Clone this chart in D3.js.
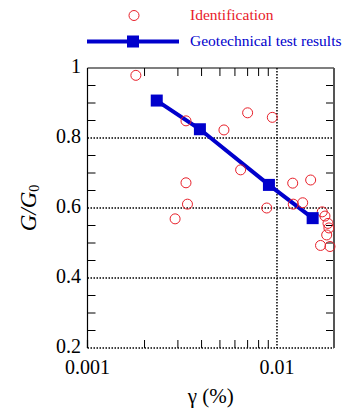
<!DOCTYPE html>
<html><head><meta charset="utf-8">
<script src="https://cdn.jsdelivr.net/npm/d3@7"></script>
<style>body{margin:0;background:#fff}svg{display:block}text{font-family:Times,"Times New Roman","Liberation Serif","DejaVu Serif",serif}</style>
</head><body>
<script>
// Data
const identStrain = [0.00180,0.00331,0.00331,0.00337,0.00290,0.00525,0.00700,0.00945,0.00643,0.01211,0.01506,0.00883,0.01219,0.01367,0.01734,0.01792,0.01859,0.0188,0.0183,0.01698,0.01905];
const identRatio  = [0.979,0.849,0.672,0.611,0.569,0.823,0.872,0.859,0.709,0.671,0.680,0.600,0.611,0.615,0.589,0.577,0.556,0.543,0.523,0.493,0.490];
const testStrain = [0.00232,0.00392,0.00907,0.01543];
const testRatio  = [0.907,0.825,0.666,0.571];
const xTickLabels = ["0.001","0.01"];
const xTickValues = [0.001,0.01];
const yTickLabels = ["0.2","0.4","0.6","0.8","1"];
const yTickValues = [0.2,0.4,0.6,0.8,1];
const legendLabels = ["Identification","Geotechnical test results"];

const W=347,H=417;
const red="#e8202a", blue="#0000cc";
const svg=d3.select("body").append("svg").attr("width",W).attr("height",H);
const L=87.5,R=334,T=68,B=348;
const x=d3.scaleLog().domain([0.001,0.02]).range([L,R]);
const y=d3.scaleLinear().domain([0.2,1]).range([B,T]);

// gridlines
const g=svg.append("g");
g.selectAll("line.gy").data([0.4,0.6,0.8]).join("line")
 .attr("x1",L).attr("x2",R).attr("y1",d=>y(d)).attr("y2",d=>y(d))
 .attr("stroke","#000").attr("stroke-width",1.5).attr("stroke-dasharray","1.5,1.5");
g.append("line").attr("x1",x(0.01)).attr("x2",x(0.01)).attr("y1",T).attr("y2",B)
 .attr("stroke","#000").attr("stroke-width",1.5).attr("stroke-dasharray","1.5,1.5");
g.append("line").attr("x1",L).attr("x2",R).attr("y1",B).attr("y2",B)
 .attr("stroke","#000").attr("stroke-width",1.5).attr("stroke-dasharray","1.5,1.5");

// minor ticks
const xMinor=[0.002,0.003,0.004,0.005,0.006,0.007,0.008,0.009];
const yMinor=d3.range(0.25,1.0,0.05).filter(v=>Math.abs(v*5-Math.round(v*5))>1e-6);
const tl=8;
const tk=svg.append("g").attr("stroke","#000").attr("stroke-width",1);
tk.selectAll("line.xb").data(xMinor).join("line").attr("x1",d=>x(d)).attr("x2",d=>x(d)).attr("y1",B).attr("y2",B-tl);
tk.selectAll("line.xt").data(xMinor).join("line").attr("x1",d=>x(d)).attr("x2",d=>x(d)).attr("y1",T).attr("y2",T+tl);
tk.selectAll("line.yl").data(yMinor).join("line").attr("x1",L).attr("x2",L+tl).attr("y1",d=>y(d)).attr("y2",d=>y(d));
tk.selectAll("line.yr").data(yMinor).join("line").attr("x1",R).attr("x2",R-tl).attr("y1",d=>y(d)).attr("y2",d=>y(d));

// frame
svg.append("line").attr("x1",L).attr("x2",R).attr("y1",T).attr("y2",T).attr("stroke","#000").attr("stroke-width",1.2);
svg.append("line").attr("x1",L).attr("x2",L).attr("y1",T).attr("y2",B).attr("stroke","#000").attr("stroke-width",1.2);
svg.append("line").attr("x1",R).attr("x2",R).attr("y1",T).attr("y2",B).attr("stroke","#555").attr("stroke-width",2);
svg.append("line").attr("x1",L).attr("x2",L).attr("y1",B-8).attr("y2",B).attr("stroke","#000").attr("stroke-width",1.2);

// tick labels
svg.selectAll("text.xl").data(xTickValues).join("text")
 .attr("x",d=>x(d)).attr("y",374).attr("text-anchor","middle")
 .attr("font-size",20).text((d,i)=>xTickLabels[i]);
svg.selectAll("text.yl").data(yTickValues).join("text")
 .attr("x",81).attr("y",d=>y(d)+5).attr("text-anchor","end")
 .attr("font-size",20).text((d,i)=>yTickLabels[i]);

// axis titles
svg.append("text").attr("x",(L+R)/2).attr("y",403).attr("text-anchor","middle")
 .attr("font-size",21).text("γ (%)");
const yt=svg.append("text").attr("transform",`translate(36,${(T+B)/2}) rotate(-90)`)
 .attr("text-anchor","middle").attr("font-size",23);
yt.append("tspan").attr("font-style","italic").text("G/G");
yt.append("tspan").attr("font-size",14).attr("dy",3).text("0");

// test line
const line=d3.line().x((d,i)=>x(testStrain[i])).y((d,i)=>y(testRatio[i]));
svg.append("path").datum(testStrain).attr("d",line).attr("fill","none").attr("stroke",blue).attr("stroke-width",4);

// ident circles
svg.selectAll("circle.id").data(identStrain).join("circle")
 .attr("cx",d=>x(d)).attr("cy",(d,i)=>y(identRatio[i])).attr("r",5)
 .attr("fill","none").attr("stroke",red).attr("stroke-width",1);

// squares
const sq=12;
svg.selectAll("rect.sq").data(testStrain).join("rect")
 .attr("x",d=>x(d)-sq/2).attr("y",(d,i)=>y(testRatio[i])-sq/2).attr("width",sq).attr("height",sq).attr("fill",blue);

// legend
svg.append("circle").attr("cx",134).attr("cy",15.5).attr("r",5).attr("fill","none").attr("stroke",red);
svg.append("text").attr("x",190).attr("y",20).attr("font-size",15.5).attr("fill",red).text(legendLabels[0]);
svg.append("line").attr("x1",87).attr("x2",179).attr("y1",41.5).attr("y2",41.5).attr("stroke",blue).attr("stroke-width",4);
svg.append("rect").attr("x",133-sq/2).attr("y",41.5-sq/2).attr("width",sq).attr("height",sq).attr("fill",blue);
svg.append("text").attr("x",190).attr("y",46).attr("font-size",15.5).attr("fill",blue).text(legendLabels[1]);
</script>
</body></html>
